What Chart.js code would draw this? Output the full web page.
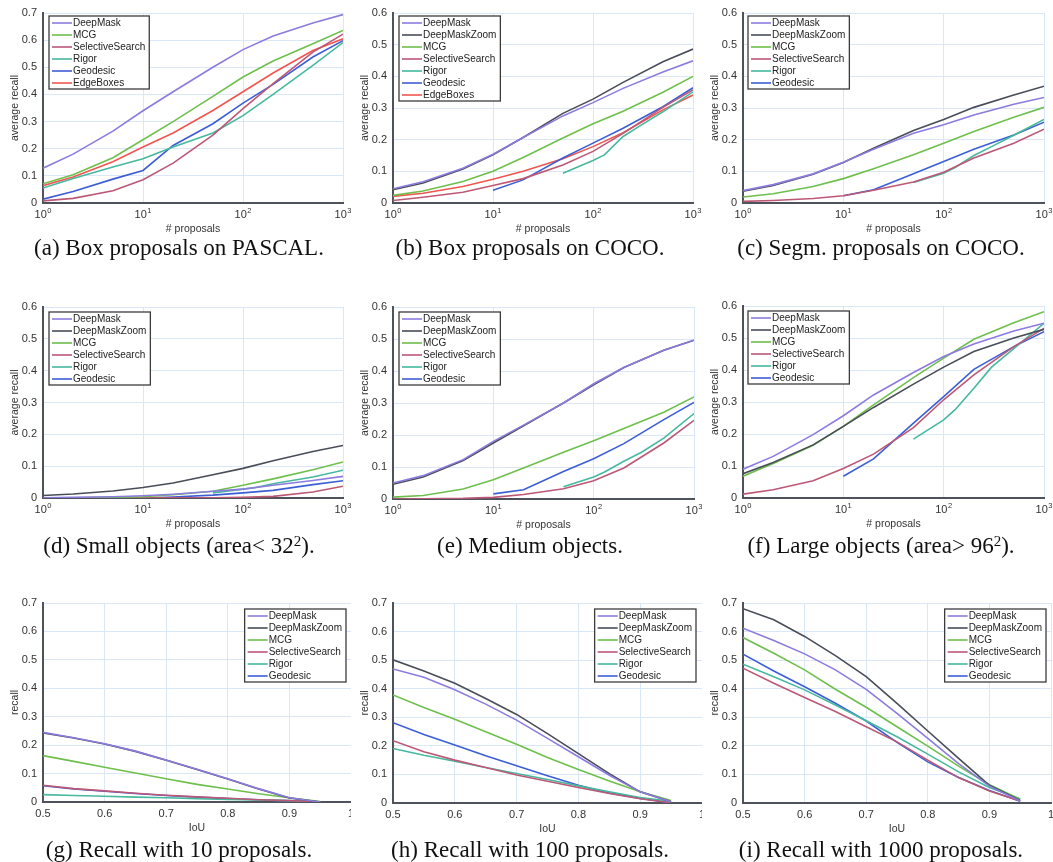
<!DOCTYPE html>
<html><head><meta charset="utf-8">
<script src="https://cdn.jsdelivr.net/npm/chart.js@4.4.1/dist/chart.umd.min.js"></script>
<style>
html,body{margin:0;padding:0;background:#fff;}
#wrap{position:relative;width:1053px;height:862px;overflow:hidden;background:#fff;}
#wrap canvas{position:absolute;}
.cap{position:absolute;width:351px;text-align:center;font-family:"Liberation Serif","Times New Roman",serif;font-size:23px;line-height:24px;color:#111;white-space:nowrap;}
.cap sup{font-size:15px;line-height:0;vertical-align:0.5em;}
</style></head>
<body><div id="wrap"></div>
<script>
// ---------- x values ----------
const proposals = [1, 2, 5, 10, 20, 50, 100, 200, 500, 1000];
const proposalsFrom10 = [10, 20, 50, 100, 200, 500, 1000];
const rigorProposals = [50, 100, 130, 200, 300, 500, 1000];
const iouThresholds = [0.5, 0.55, 0.6, 0.65, 0.7, 0.75, 0.8, 0.85, 0.9, 0.95];
const logTickValues = [1, 10, 100, 1000];

// ---------- (a) Box proposals on PASCAL ----------
const boxPascalDeepMask = [0.128, 0.18, 0.265, 0.34, 0.41, 0.50, 0.565, 0.615, 0.663, 0.694];
const boxPascalMCG = [0.071, 0.104, 0.167, 0.233, 0.30, 0.393, 0.464, 0.523, 0.587, 0.636];
const boxPascalSelectiveSearch = [0.008, 0.017, 0.045, 0.086, 0.147, 0.25, 0.348, 0.44, 0.556, 0.622];
const boxPascalRigor = [0.055, 0.09, 0.133, 0.163, 0.206, 0.258, 0.322, 0.40, 0.507, 0.591];
const boxPascalGeodesic = [0.014, 0.042, 0.088, 0.12, 0.212, 0.292, 0.368, 0.437, 0.538, 0.598];
const boxPascalEdgeBoxes = [0.064, 0.096, 0.152, 0.206, 0.258, 0.341, 0.41, 0.479, 0.562, 0.605];

// ---------- (b) Box proposals on COCO ----------
const boxCocoDeepMask = [0.045, 0.067, 0.11, 0.154, 0.207, 0.275, 0.317, 0.362, 0.414, 0.449];
const boxCocoDeepMaskZoom = [0.042, 0.063, 0.107, 0.152, 0.207, 0.283, 0.328, 0.381, 0.446, 0.486];
const boxCocoMCG = [0.024, 0.038, 0.068, 0.10, 0.144, 0.205, 0.25, 0.29, 0.35, 0.40];
const boxCocoSelectiveSearch = [0.008, 0.018, 0.034, 0.055, 0.077, 0.12, 0.163, 0.22, 0.302, 0.357];
const boxCocoRigor = [0.094, 0.134, 0.152, 0.21, 0.245, 0.288, 0.351];
const boxCocoGeodesic = [0.04, 0.073, 0.142, 0.189, 0.236, 0.304, 0.364];
const boxCocoEdgeBoxes = [0.021, 0.031, 0.052, 0.075, 0.10, 0.14, 0.178, 0.222, 0.294, 0.341];

// ---------- (c) Segm. proposals on COCO ----------
const segmCocoDeepMask = [0.039, 0.058, 0.092, 0.129, 0.17, 0.22, 0.247, 0.278, 0.312, 0.333];
const segmCocoDeepMaskZoom = [0.037, 0.055, 0.091, 0.128, 0.173, 0.229, 0.264, 0.302, 0.341, 0.369];
const segmCocoMCG = [0.019, 0.029, 0.052, 0.077, 0.108, 0.152, 0.189, 0.226, 0.271, 0.302];
const segmCocoSelectiveSearch = [0.005, 0.008, 0.014, 0.023, 0.04, 0.066, 0.097, 0.142, 0.189, 0.233];
const segmCocoRigor = [0.065, 0.094, 0.112, 0.15, 0.178, 0.214, 0.264];
const segmCocoGeodesic = [0.023, 0.042, 0.092, 0.131, 0.17, 0.215, 0.255];

// ---------- (d) Small objects ----------
const smallDeepMask = [0.001, 0.002, 0.004, 0.007, 0.012, 0.021, 0.028, 0.04, 0.055, 0.068];
const smallDeepMaskZoom = [0.008, 0.0125, 0.022, 0.033, 0.047, 0.073, 0.093, 0.117, 0.146, 0.165];
const smallMCG = [0.0, 0.001, 0.002, 0.004, 0.01, 0.021, 0.04, 0.06, 0.089, 0.113];
const smallSelectiveSearch = [0.0, 0.0, 0.0, 0.001, 0.001, 0.001, 0.002, 0.005, 0.019, 0.037];
const smallRigor = [0.016, 0.028, 0.032, 0.045, 0.054, 0.066, 0.087];
const smallGeodesic = [0.0, 0.003, 0.009, 0.016, 0.024, 0.042, 0.054];

// ---------- (e) Medium objects ----------
const mediumDeepMask = [0.05, 0.073, 0.123, 0.18, 0.231, 0.30, 0.36, 0.411, 0.465, 0.496];
const mediumDeepMaskZoom = [0.046, 0.069, 0.12, 0.175, 0.229, 0.30, 0.357, 0.411, 0.465, 0.496];
const mediumMCG = [0.006, 0.011, 0.031, 0.06, 0.097, 0.146, 0.182, 0.22, 0.271, 0.319];
const mediumSelectiveSearch = [0.0, 0.001, 0.002, 0.005, 0.014, 0.032, 0.057, 0.097, 0.175, 0.246];
const mediumRigor = [0.038, 0.069, 0.085, 0.118, 0.146, 0.19, 0.267];
const mediumGeodesic = [0.016, 0.029, 0.086, 0.126, 0.173, 0.248, 0.302];

// ---------- (f) Large objects ----------
const largeDeepMask = [0.09, 0.13, 0.198, 0.257, 0.322, 0.392, 0.442, 0.481, 0.522, 0.546];
const largeDeepMaskZoom = [0.076, 0.111, 0.166, 0.224, 0.283, 0.356, 0.409, 0.458, 0.50, 0.527];
const largeMCG = [0.068, 0.108, 0.165, 0.224, 0.291, 0.376, 0.437, 0.496, 0.548, 0.582];
const largeSelectiveSearch = [0.012, 0.026, 0.054, 0.092, 0.137, 0.22, 0.307, 0.385, 0.473, 0.53];
const largeRigor = [0.184, 0.244, 0.276, 0.343, 0.409, 0.467, 0.546];
const largeGeodesic = [0.068, 0.122, 0.234, 0.317, 0.402, 0.473, 0.52];

// ---------- (g) Recall with 10 proposals ----------
const iou10DeepMask = [0.245, 0.226, 0.205, 0.179, 0.148, 0.115, 0.082, 0.047, 0.015, 0.0];
const iou10DeepMaskZoom = [0.243, 0.225, 0.204, 0.178, 0.147, 0.114, 0.081, 0.046, 0.014, 0.0];
const iou10MCG = [0.163, 0.143, 0.122, 0.102, 0.082, 0.062, 0.046, 0.029, 0.015, 0.002];
const iou10SelectiveSearch = [0.059, 0.047, 0.039, 0.031, 0.024, 0.018, 0.013, 0.008, 0.005, 0.001];
const iou10Rigor = [0.026, 0.023, 0.02, 0.017, 0.015, 0.012, 0.009, 0.007, 0.005, 0.0];
const iou10Geodesic = [0.057, 0.046, 0.038, 0.03, 0.023, 0.017, 0.012, 0.008, 0.004, 0.0];

// ---------- (h) Recall with 100 proposals ----------
const iou100DeepMask = [0.469, 0.44, 0.396, 0.346, 0.29, 0.226, 0.162, 0.097, 0.039, 0.004];
const iou100DeepMaskZoom = [0.501, 0.462, 0.419, 0.366, 0.31, 0.243, 0.173, 0.103, 0.039, 0.004];
const iou100MCG = [0.378, 0.334, 0.293, 0.249, 0.206, 0.159, 0.117, 0.077, 0.039, 0.009];
const iou100SelectiveSearch = [0.218, 0.179, 0.15, 0.124, 0.098, 0.076, 0.054, 0.033, 0.015, 0.001];
const iou100Rigor = [0.191, 0.167, 0.146, 0.124, 0.103, 0.082, 0.06, 0.039, 0.019, 0.006];
const iou100Geodesic = [0.281, 0.24, 0.203, 0.165, 0.13, 0.095, 0.062, 0.035, 0.016, 0.001];

// ---------- (i) Recall with 1000 proposals ----------
const iou1000DeepMask = [0.612, 0.569, 0.522, 0.466, 0.398, 0.314, 0.226, 0.138, 0.059, 0.007];
const iou1000DeepMaskZoom = [0.68, 0.641, 0.583, 0.516, 0.442, 0.349, 0.252, 0.156, 0.062, 0.009];
const iou1000MCG = [0.579, 0.524, 0.466, 0.398, 0.335, 0.267, 0.199, 0.129, 0.064, 0.013];
const iou1000SelectiveSearch = [0.472, 0.419, 0.369, 0.32, 0.267, 0.214, 0.15, 0.089, 0.042, 0.007];
const iou1000Rigor = [0.486, 0.442, 0.396, 0.343, 0.288, 0.232, 0.171, 0.109, 0.054, 0.014];
const iou1000Geodesic = [0.521, 0.462, 0.407, 0.349, 0.287, 0.212, 0.144, 0.089, 0.044, 0.006];

// ---------- styles ----------
const COLORS = {
  DeepMask: 'rgb(140,123,222)',
  DeepMaskZoom: 'rgb(72,77,88)',
  MCG: 'rgb(110,191,76)',
  SelectiveSearch: 'rgb(188,88,118)',
  Rigor: 'rgb(70,184,158)',
  Geodesic: 'rgb(60,94,212)',
  EdgeBoxes: 'rgb(240,86,80)'
};
const FONT = '"Liberation Sans", Arial, Helvetica, sans-serif';
const GRID = 'rgb(218,231,249)';
const AXIS = 'rgb(78,82,90)';
const TEXT = '#333';

const wrap = document.getElementById('wrap');

function fmt(v) {
  const r = Math.round(v * 10) / 10;
  return r === 0 ? '0' : String(r);
}

function s(label, xs, ys) { return { label, xs, ys }; }

const decorPlugin = {
  id: 'decor',
  afterDraw(chart) {
    const o = chart.options.plugins.decor;
    const ctx = chart.ctx, ca = chart.chartArea, xs = chart.scales.x;
    ctx.save();
    ctx.fillStyle = TEXT;
    // x tick labels
    xs.ticks.forEach(t => {
      const px = xs.getPixelForValue(t.value);
      if (o.log) {
        const e = String(Math.round(Math.log10(t.value)));
        ctx.font = '11px ' + FONT; const w1 = ctx.measureText('10').width;
        ctx.font = '7.5px ' + FONT; const w2 = ctx.measureText(e).width;
        const st = px - (w1 + w2 + 0.5) / 2;
        ctx.textAlign = 'left'; ctx.textBaseline = 'alphabetic';
        ctx.font = '11px ' + FONT; ctx.fillText('10', st, ca.bottom + 14.5);
        ctx.font = '7.5px ' + FONT; ctx.fillText(e, st + w1 + 0.5, ca.bottom + 9.5);
      } else {
        ctx.font = '11px ' + FONT; ctx.textAlign = 'center'; ctx.textBaseline = 'alphabetic';
        ctx.fillText(fmt(t.value), px, ca.bottom + 14.5);
      }
    });
    // axis titles
    ctx.font = '10.5px ' + FONT; ctx.textAlign = 'center'; ctx.textBaseline = 'middle';
    ctx.fillText(o.xTitle, (ca.left + ca.right) / 2, ca.bottom + 26);
    ctx.save();
    ctx.translate(ca.left - 28, (ca.top + ca.bottom) / 2);
    ctx.rotate(-Math.PI / 2);
    ctx.fillText(o.yTitle, 0, 0);
    ctx.restore();
    // legend
    const dss = chart.data.datasets;
    ctx.font = '10px ' + FONT;
    const maxW = Math.max(...dss.map(d => ctx.measureText(d.label).width));
    const w = 24 + maxW + 4, h = dss.length * 12 + 1;
    const x0 = o.corner === 'nw' ? ca.left + o.dx : ca.right - o.dx - w;
    const y0 = ca.top + o.dy;
    ctx.fillStyle = '#fff'; ctx.fillRect(x0, y0, w, h);
    ctx.strokeStyle = 'rgb(60,60,64)'; ctx.lineWidth = 1.3; ctx.strokeRect(x0, y0, w, h);
    dss.forEach((d, i) => {
      const y = y0 + 7 + i * 12;
      ctx.strokeStyle = d.borderColor; ctx.lineWidth = 1.6;
      ctx.beginPath(); ctx.moveTo(x0 + 3, y); ctx.lineTo(x0 + 23, y); ctx.stroke();
      ctx.fillStyle = '#222'; ctx.textAlign = 'left'; ctx.textBaseline = 'middle';
      ctx.fillText(d.label, x0 + 24, y + 0.5);
    });
    ctx.restore();
  }
};

function panel(p) {
  const cv = document.createElement('canvas');
  cv.width = p.w; cv.height = p.h;
  cv.style.left = p.x + 'px'; cv.style.top = p.y + 'px';
  wrap.appendChild(cv);
  const l = p.plot[0] - p.x, t = p.plot[1] - p.y, r = p.plot[2] - p.x, b = p.plot[3] - p.y;
  const log = p.log;
  new Chart(cv, {
    type: 'line',
    data: {
      datasets: p.series.map(se => ({
        label: se.label,
        data: se.xs.map((x, i) => ({ x: x, y: se.ys[i] })),
        borderColor: COLORS[se.label],
        backgroundColor: COLORS[se.label],
        borderWidth: 1.6, pointRadius: 0, tension: 0, fill: false
      }))
    },
    options: {
      responsive: false, animation: false, devicePixelRatio: 1,
      events: [],
      layout: { padding: { left: 0, top: t, right: p.w - r, bottom: 0 } },
      plugins: {
        legend: { display: false }, tooltip: { enabled: false },
        decor: { log: log, xTitle: p.xTitle, yTitle: p.yTitle, corner: p.corner, dx: p.dx, dy: p.dy }
      },
      scales: {
        x: {
          type: log ? 'logarithmic' : 'linear',
          min: log ? 1 : 0.5, max: log ? 1000 : 1,
          ticks: { display: false, stepSize: 0.1 },
          afterBuildTicks: log ? (sc => { sc.ticks = logTickValues.map(v => ({ value: v })); }) : undefined,
          afterFit: sc => { sc.height = p.h - b; },
          grid: { color: GRID, lineWidth: 1, drawTicks: false },
          border: { display: true, color: AXIS, width: 2 }
        },
        y: {
          type: 'linear', min: 0, max: p.yMax,
          ticks: { stepSize: 0.1, padding: 6, color: TEXT, font: { family: FONT, size: 11 }, callback: v => fmt(v) },
          afterFit: sc => { sc.width = l; },
          grid: { color: GRID, lineWidth: 1, drawTicks: false },
          border: { display: true, color: AXIS, width: 2 }
        }
      }
    },
    plugins: [decorPlugin]
  });
}

const colX = [0, 351, 702];
const rowY = [0, 262, 560], rowH = [262, 298, 302];

// Row 1
panel({ x: colX[0], y: rowY[0], w: 351, h: rowH[0], plot: [43, 13, 343, 203], log: true, yMax: 0.7,
  xTitle: '# proposals', yTitle: 'average recall', corner: 'nw', dx: 6, dy: 3,
  series: [s('DeepMask', proposals, boxPascalDeepMask), s('MCG', proposals, boxPascalMCG),
    s('SelectiveSearch', proposals, boxPascalSelectiveSearch), s('Rigor', proposals, boxPascalRigor),
    s('Geodesic', proposals, boxPascalGeodesic), s('EdgeBoxes', proposals, boxPascalEdgeBoxes)] });
panel({ x: colX[1], y: rowY[0], w: 351, h: rowH[0], plot: [393, 13, 693, 203], log: true, yMax: 0.6,
  xTitle: '# proposals', yTitle: 'average recall', corner: 'nw', dx: 6, dy: 3,
  series: [s('DeepMask', proposals, boxCocoDeepMask), s('DeepMaskZoom', proposals, boxCocoDeepMaskZoom),
    s('MCG', proposals, boxCocoMCG), s('SelectiveSearch', proposals, boxCocoSelectiveSearch),
    s('Rigor', rigorProposals, boxCocoRigor), s('Geodesic', proposalsFrom10, boxCocoGeodesic),
    s('EdgeBoxes', proposals, boxCocoEdgeBoxes)] });
panel({ x: colX[2], y: rowY[0], w: 351, h: rowH[0], plot: [743, 13, 1044, 203], log: true, yMax: 0.6,
  xTitle: '# proposals', yTitle: 'average recall', corner: 'nw', dx: 5, dy: 3,
  series: [s('DeepMask', proposals, segmCocoDeepMask), s('DeepMaskZoom', proposals, segmCocoDeepMaskZoom),
    s('MCG', proposals, segmCocoMCG), s('SelectiveSearch', proposals, segmCocoSelectiveSearch),
    s('Rigor', rigorProposals, segmCocoRigor), s('Geodesic', proposalsFrom10, segmCocoGeodesic)] });

// Row 2
panel({ x: colX[0], y: rowY[1], w: 351, h: rowH[1], plot: [43, 307, 343, 498], log: true, yMax: 0.6,
  xTitle: '# proposals', yTitle: 'average recall', corner: 'nw', dx: 6, dy: 5,
  series: [s('DeepMask', proposals, smallDeepMask), s('DeepMaskZoom', proposals, smallDeepMaskZoom),
    s('MCG', proposals, smallMCG), s('SelectiveSearch', proposals, smallSelectiveSearch),
    s('Rigor', rigorProposals, smallRigor), s('Geodesic', proposalsFrom10, smallGeodesic)] });
panel({ x: colX[1], y: rowY[1], w: 351, h: rowH[1], plot: [393, 307, 694, 499], log: true, yMax: 0.6,
  xTitle: '# proposals', yTitle: 'average recall', corner: 'nw', dx: 6, dy: 5,
  series: [s('DeepMask', proposals, mediumDeepMask), s('DeepMaskZoom', proposals, mediumDeepMaskZoom),
    s('MCG', proposals, mediumMCG), s('SelectiveSearch', proposals, mediumSelectiveSearch),
    s('Rigor', rigorProposals, mediumRigor), s('Geodesic', proposalsFrom10, mediumGeodesic)] });
panel({ x: colX[2], y: rowY[1], w: 351, h: rowH[1], plot: [743, 306, 1044, 498], log: true, yMax: 0.6,
  xTitle: '# proposals', yTitle: 'average recall', corner: 'nw', dx: 5, dy: 5,
  series: [s('DeepMask', proposals, largeDeepMask), s('DeepMaskZoom', proposals, largeDeepMaskZoom),
    s('MCG', proposals, largeMCG), s('SelectiveSearch', proposals, largeSelectiveSearch),
    s('Rigor', rigorProposals, largeRigor), s('Geodesic', proposalsFrom10, largeGeodesic)] });

// Row 3
panel({ x: colX[0], y: rowY[2], w: 351, h: rowH[2], plot: [43, 603, 351, 802], log: false, yMax: 0.7,
  xTitle: 'IoU', yTitle: 'recall', corner: 'ne', dx: 5, dy: 6,
  series: [s('DeepMask', iouThresholds, iou10DeepMask), s('DeepMaskZoom', iouThresholds, iou10DeepMaskZoom),
    s('MCG', iouThresholds, iou10MCG), s('SelectiveSearch', iouThresholds, iou10SelectiveSearch),
    s('Rigor', iouThresholds, iou10Rigor), s('Geodesic', iouThresholds, iou10Geodesic)] });
panel({ x: colX[1], y: rowY[2], w: 351, h: rowH[2], plot: [393, 603, 702, 803], log: false, yMax: 0.7,
  xTitle: 'IoU', yTitle: 'recall', corner: 'ne', dx: 6, dy: 6,
  series: [s('DeepMask', iouThresholds, iou100DeepMask), s('DeepMaskZoom', iouThresholds, iou100DeepMaskZoom),
    s('MCG', iouThresholds, iou100MCG), s('SelectiveSearch', iouThresholds, iou100SelectiveSearch),
    s('Rigor', iouThresholds, iou100Rigor), s('Geodesic', iouThresholds, iou100Geodesic)] });
panel({ x: colX[2], y: rowY[2], w: 351, h: rowH[2], plot: [743, 603, 1051, 803], log: false, yMax: 0.7,
  xTitle: 'IoU', yTitle: 'recall', corner: 'ne', dx: 5, dy: 6,
  series: [s('DeepMask', iouThresholds, iou1000DeepMask), s('DeepMaskZoom', iouThresholds, iou1000DeepMaskZoom),
    s('MCG', iouThresholds, iou1000MCG), s('SelectiveSearch', iouThresholds, iou1000SelectiveSearch),
    s('Rigor', iouThresholds, iou1000Rigor), s('Geodesic', iouThresholds, iou1000Geodesic)] });

// Captions
const captions = [
  ['(a) Box proposals on PASCAL.', 0, 236],
  ['(b) Box proposals on COCO.', 1, 236],
  ['(c) Segm. proposals on COCO.', 2, 236],
  ['(d) Small objects (area&lt; 32<sup>2</sup>).', 0, 534],
  ['(e) Medium objects.', 1, 534],
  ['(f) Large objects (area&gt; 96<sup>2</sup>).', 2, 534],
  ['(g) Recall with 10 proposals.', 0, 838],
  ['(h) Recall with 100 proposals.', 1, 838],
  ['(i) Recall with 1000 proposals.', 2, 838]
];
captions.forEach(c => {
  const d = document.createElement('div');
  d.className = 'cap';
  d.innerHTML = c[0];
  d.style.left = (colX[c[1]] + 3.5) + 'px';
  d.style.top = c[2] + 'px';
  wrap.appendChild(d);
});
</script>
</body></html>
